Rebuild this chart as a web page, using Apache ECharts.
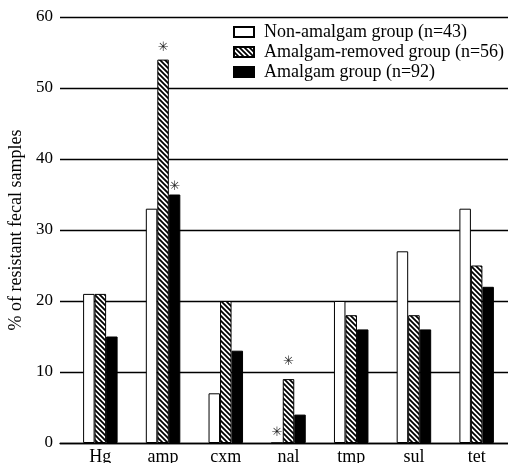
<!DOCTYPE html>
<html><head><meta charset="utf-8">
<script src="https://cdn.jsdelivr.net/npm/echarts@6/dist/echarts.min.js"></script>
<style>html,body{margin:0;padding:0;background:#fff}#c{width:508px;height:463px}</style>
</head><body><div id="c"></div>
<script>
const categories = ['Hg','amp','cxm','nal','tmp','sul','tet'];
const nonAmalgam = [21,33,7,0,20,27,33];
const amalgamRemoved = [21,54,20,9,18,18,25];
const amalgam = [15,35,13,4,16,16,22];
const yTicks = [0,10,20,30,40,50,60];
const seriesNames = ['Non-amalgam group (n=43)','Amalgam-removed group (n=56)','Amalgam group (n=92)'];
const starNon = [0,0,0,1,0,0,0];
const starRemoved = [0,1,0,1,0,0,0];
const starAmalgam = [0,1,0,0,0,0,0];

const SERIF = 'Liberation Serif';
function hatch(){
  const s=5, c=document.createElement('canvas'); c.width=s; c.height=s;
  const g=c.getContext('2d'); g.fillStyle='#fff'; g.fillRect(0,0,s,s);
  g.strokeStyle='#000'; g.lineWidth=1.8;
  g.beginPath();
  g.moveTo(-2,-2); g.lineTo(s+2,s+2);
  g.moveTo(-2,s-2); g.lineTo(2,s+2);
  g.moveTo(s-2,-2); g.lineTo(s+2,2);
  g.stroke();
  return c;
}
const hatchPattern = {image: hatch(), repeat: 'repeat'};
const starDist = {0:{nal:4}, 1:{amp:6, nal:11}, 2:{amp:2}};
function withStars(vals, flags, si){
  return vals.map((v,i)=> flags[i] ? {value:v, label:{show:true, position:'top', distance:(starDist[si][categories[i]]||4), formatter:'\u2733', fontSize:13, lineHeight:12, color:'#222', fontFamily:'DejaVu Sans'}} : v);
}
const fills = ['#fff', hatchPattern, '#000'];
const vals = [withStars(nonAmalgam, starNon, 0), withStars(amalgamRemoved, starRemoved, 1), withStars(amalgam, starAmalgam, 2)];

const chart = echarts.init(document.getElementById('c'), null, {renderer:'canvas'});
chart.setOption({
  animation:false,
  backgroundColor:'#fff',
  grid:[
    {left:60,right:0,top:17,bottom:20,containLabel:false,outerBoundsMode:'none'},
    {left:69,right:0,top:17,bottom:20,containLabel:false,outerBoundsMode:'none'}
  ],
  legend:{
    orient:'vertical', left:233, top:23, itemWidth:20, itemHeight:10, itemGap:2, padding:0,
    icon:'rect',
    textStyle:{fontSize:18, lineHeight:18, fontFamily:SERIF, color:'#000', padding:[0,0,0,5]},
    data:seriesNames
  },
  xAxis:[
    {gridIndex:0,type:'category',data:categories,axisLine:{show:true,onZero:false,lineStyle:{color:'#000',width:1.3}},axisTick:{show:false},axisLabel:{show:false}},
    {gridIndex:1,type:'category',data:categories,axisLine:{show:false},axisTick:{show:false},
     axisLabel:{fontSize:18,lineHeight:18,fontFamily:SERIF,color:'#000',margin:5}}
  ],
  yAxis:[
    {gridIndex:0,type:'value',min:yTicks[0],max:yTicks[yTicks.length-1],interval:yTicks[1]-yTicks[0],
     axisLine:{show:false},axisTick:{show:false},
     axisLabel:{fontSize:17,fontFamily:SERIF,color:'#000',margin:7},
     splitLine:{show:true,showMinLine:true,showMaxLine:true,lineStyle:{color:'#000',width:1.3}},
     name:'% of resistant fecal samples', nameLocation:'middle', nameGap:25,
     nameTextStyle:{fontSize:18,fontFamily:SERIF,color:'#000'}},
    {gridIndex:1,type:'value',min:yTicks[0],max:yTicks[yTicks.length-1],interval:yTicks[1]-yTicks[0],show:false,splitLine:{show:false}}
  ],
  series: seriesNames.map((n,si)=>({
    name:n, type:'bar', xAxisIndex:1, yAxisIndex:1, barWidth:11.5, barGap:'0%',
    itemStyle:{color:fills[si], borderColor:'#000', borderWidth:1},
    data: vals[si]
  }))
});
</script></body></html>
